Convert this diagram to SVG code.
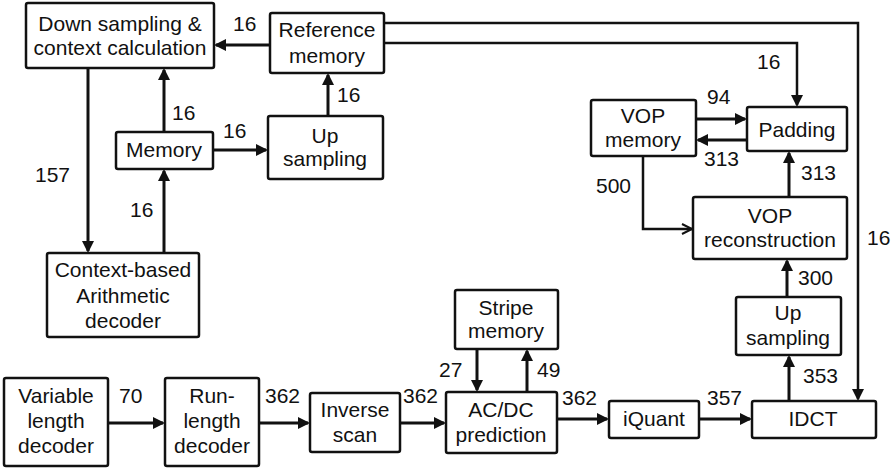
<svg xmlns="http://www.w3.org/2000/svg" width="895" height="468" viewBox="0 0 895 468">
  <style>
    .box { fill: #fff; stroke: #111; stroke-width: 2.5; }
    .t { font-family: "Liberation Sans", Arial, sans-serif; font-size: 21px; fill: #111; text-anchor: middle; }
    .lbl { font-family: "Liberation Sans", Arial, sans-serif; font-size: 21px; fill: #111; }
    .c { fill: none; stroke: #111; stroke-width: 3; }
    .thin { stroke-width: 2.5; }
    .arr { marker-end: url(#ah); }
    .open { marker-end: url(#oh); }
  </style>
  <defs>
    <marker id="ah" markerUnits="userSpaceOnUse" markerWidth="14" markerHeight="14" refX="10" refY="6" orient="auto">
      <path d="M0,0 L12,6 L0,12 z" fill="#111"/>
    </marker>
    <marker id="oh" markerUnits="userSpaceOnUse" markerWidth="14" markerHeight="14" refX="11" refY="6" orient="auto">
      <path d="M1,1 L11,6 L1,11" fill="none" stroke="#111" stroke-width="2"/>
    </marker>
  </defs>
  <rect width="895" height="468" fill="#fff"/>

  <!-- connectors -->
  <g id="connectors">
    <path class="c arr" d="M270,45 H216"/>
    <path class="c thin arr" d="M384,23 H858 V399"/>
    <path class="c thin arr" d="M384,43 H797 V105"/>
    <path class="c arr" d="M328,116 V75"/>
    <path class="c arr" d="M213,150 H266"/>
    <path class="c arr" d="M164,132 V70"/>
    <path class="c arr" d="M88,68 V251"/>
    <path class="c arr" d="M164,253 V171"/>
    <path class="c arr" d="M108,423 H163"/>
    <path class="c arr" d="M259,423 H308"/>
    <path class="c arr" d="M400,423 H444"/>
    <path class="c arr" d="M477,349 V390"/>
    <path class="c arr" d="M527,392 V351"/>
    <path class="c arr" d="M557,419 H607"/>
    <path class="c arr" d="M699,419 H750"/>
    <path class="c arr" d="M789,401 V357"/>
    <path class="c arr" d="M787,297 V261"/>
    <path class="c arr" d="M789,197 V153"/>
    <path class="c arr" d="M696,119 H745"/>
    <path class="c arr" d="M747,140 H698"/>
    <path class="c thin open" d="M643,156 V229 H692"/>

    <text class="lbl" x="233" y="31">16</text>
    <text class="lbl" x="337" y="102">16</text>
    <text class="lbl" x="223" y="138">16</text>
    <text class="lbl" x="172" y="120">16</text>
    <text class="lbl" x="35" y="182">157</text>
    <text class="lbl" x="130" y="217">16</text>
    <text class="lbl" x="757" y="69">16</text>
    <text class="lbl" x="707" y="104">94</text>
    <text class="lbl" x="704" y="166">313</text>
    <text class="lbl" x="801" y="180">313</text>
    <text class="lbl" x="596" y="193">500</text>
    <text class="lbl" x="867" y="245">16</text>
    <text class="lbl" x="798" y="285">300</text>
    <text class="lbl" x="803" y="383">353</text>
    <text class="lbl" x="119" y="403">70</text>
    <text class="lbl" x="265" y="403">362</text>
    <text class="lbl" x="403" y="403">362</text>
    <text class="lbl" x="439" y="377">27</text>
    <text class="lbl" x="537" y="377">49</text>
    <text class="lbl" x="562" y="405">362</text>
    <text class="lbl" x="707" y="405">357</text>
  </g>

  <!-- nodes -->
  <g id="down-sampling">
    <rect class="box" x="26" y="3" width="188" height="65" rx="2"/>
    <text class="t" x="120" y="31">Down sampling &amp;</text>
    <text class="t" x="120" y="55">context calculation</text>
  </g>
  <g id="reference-memory">
    <rect class="box" x="270" y="13" width="114" height="60" rx="2"/>
    <text class="t" x="327" y="37">Reference</text>
    <text class="t" x="327" y="63">memory</text>
  </g>
  <g id="up-sampling-top">
    <rect class="box" x="268" y="116" width="115" height="63" rx="2"/>
    <text class="t" x="325" y="143">Up</text>
    <text class="t" x="325" y="166">sampling</text>
  </g>
  <g id="memory">
    <rect class="box" x="116" y="132" width="97" height="37" rx="2"/>
    <text class="t" x="164" y="157">Memory</text>
  </g>
  <g id="context-decoder">
    <rect class="box" x="47" y="253" width="152" height="84" rx="2"/>
    <text class="t" x="123" y="277">Context-based</text>
    <text class="t" x="123" y="303">Arithmetic</text>
    <text class="t" x="123" y="328">decoder</text>
  </g>
  <g id="vld">
    <rect class="box" x="4" y="378" width="104" height="88" rx="2"/>
    <text class="t" x="56" y="403">Variable</text>
    <text class="t" x="56" y="428">length</text>
    <text class="t" x="56" y="453">decoder</text>
  </g>
  <g id="rld">
    <rect class="box" x="165" y="378" width="94" height="88" rx="2"/>
    <text class="t" x="212" y="403">Run-</text>
    <text class="t" x="212" y="428">length</text>
    <text class="t" x="212" y="453">decoder</text>
  </g>
  <g id="inverse-scan">
    <rect class="box" x="310" y="393" width="90" height="59" rx="2"/>
    <text class="t" x="355" y="417">Inverse</text>
    <text class="t" x="355" y="442">scan</text>
  </g>
  <g id="acdc">
    <rect class="box" x="446" y="392" width="111" height="61" rx="2"/>
    <text class="t" x="501" y="417">AC/DC</text>
    <text class="t" x="501" y="442">prediction</text>
  </g>
  <g id="stripe-memory">
    <rect class="box" x="455" y="290" width="103" height="59" rx="2"/>
    <text class="t" x="506" y="315">Stripe</text>
    <text class="t" x="506" y="338">memory</text>
  </g>
  <g id="iquant">
    <rect class="box" x="609" y="401" width="90" height="37" rx="2"/>
    <text class="t" x="654" y="426">iQuant</text>
  </g>
  <g id="idct">
    <rect class="box" x="752" y="401" width="124" height="37" rx="2"/>
    <text class="t" x="813" y="426">IDCT</text>
  </g>
  <g id="up-sampling-right">
    <rect class="box" x="736" y="297" width="105" height="58" rx="2"/>
    <text class="t" x="788" y="320">Up</text>
    <text class="t" x="788" y="345">sampling</text>
  </g>
  <g id="vop-reconstruction">
    <rect class="box" x="693" y="197" width="154" height="62" rx="2"/>
    <text class="t" x="770" y="223">VOP</text>
    <text class="t" x="770" y="247">reconstruction</text>
  </g>
  <g id="vop-memory">
    <rect class="box" x="591" y="100" width="105" height="56" rx="2"/>
    <text class="t" x="643" y="123">VOP</text>
    <text class="t" x="643" y="147">memory</text>
  </g>
  <g id="padding">
    <rect class="box" x="747" y="107" width="100" height="44" rx="2"/>
    <text class="t" x="797" y="137">Padding</text>
  </g>
</svg>
